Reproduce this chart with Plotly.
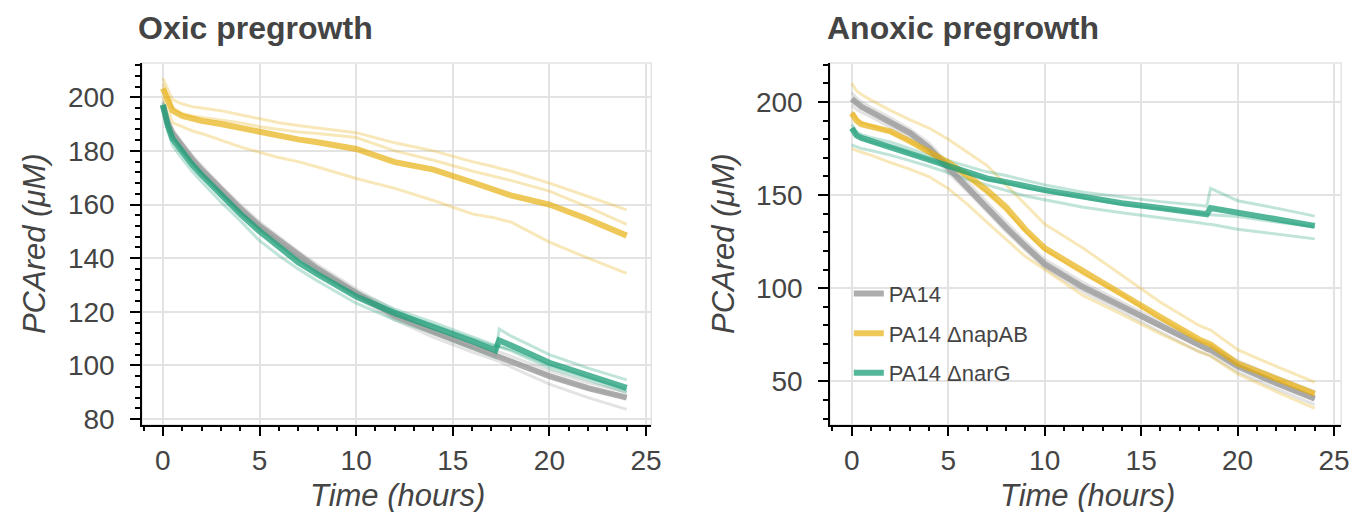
import plotly.graph_objects as go

W, H = 1370, 512

# ---- Oxic pregrowth (left) ----
t_oxic = [0, 0.25, 0.5, 1, 1.5, 2, 3, 4, 5, 6, 7, 8, 10, 12, 14, 16, 17.2, 17.4, 18, 20, 22, 24]

oxic_pa14_mean = [197, 190.5, 186.5, 181.5, 177, 173, 165.5, 158.5, 152, 146.5, 141, 136, 127, 118.5, 112.5, 107, 104, 103.5, 102, 96, 91.5, 88]
oxic_pa14_r1 = [198.5, 192, 188, 183, 178.5, 174.5, 167, 160, 153.5, 148, 142.5, 137.5, 128.5, 120.5, 114, 108.5, 105.5, 105, 103.5, 98, 93.5, 90]
oxic_pa14_r2 = [197, 190.5, 186.5, 181.5, 177, 173, 165.5, 158.5, 152, 146.5, 141, 136, 127, 118.5, 112.5, 107, 104, 103.5, 102, 96, 91.5, 88]
oxic_pa14_r3 = [195.5, 189, 185, 180, 175.5, 171.5, 164, 157, 150.5, 145, 139.5, 134.5, 125.5, 117, 110.5, 105, 102, 101.5, 99.5, 93, 88, 83.6]

oxic_nap_mean = [203.3, 199, 195, 193, 192, 191.2, 190, 188.5, 186.8, 185.5, 184.3, 183.2, 180.7, 175.8, 173, 168.3, 165.4, 165, 163.4, 160, 154.5, 148.4]
oxic_nap_r1 = [207, 203, 199, 197.5, 196.5, 196, 195, 193.5, 192, 190.5, 189.5, 188.5, 186.8, 183, 180, 176, 174, 173.5, 172.5, 168, 163, 158]
oxic_nap_r2 = [205, 200, 196, 194, 193, 192.5, 191.5, 190.5, 189, 188, 187, 186.5, 185, 180, 176.5, 172.5, 170.5, 170, 169, 165, 159, 152.6]
oxic_nap_r3 = [200, 195, 190.5, 189, 187.5, 186.5, 184, 181.5, 179.5, 177.5, 176, 174, 169.7, 166, 161.5, 156.5, 155, 154.5, 153.5, 146, 140, 134.3]

oxic_nar_mean = [197.2, 189.5, 184.5, 179.5, 175, 171, 163.5, 156.5, 150, 144, 138.5, 134, 125.7, 119.5, 114.5, 109, 105.6, 109.3, 107.5, 101, 96.3, 91.6]
oxic_nar_r1 = [196, 187.5, 182, 177, 172.5, 168.5, 161, 154, 146.5, 141, 136, 131.5, 123.2, 117, 112, 106.5, 103, 113.6, 111, 104, 99, 94.6]
oxic_nar_r2 = [198, 191, 186.5, 181, 176.5, 172.5, 165, 158, 152, 146, 140.5, 136, 127.5, 121, 116, 110.5, 107.5, 107, 106, 100, 95.5, 91]
oxic_nar_r3 = [197, 190, 185, 180, 175.5, 171.5, 164, 157, 151, 145, 139.5, 134.5, 126.5, 120, 115, 110, 107, 107, 105.5, 99, 94.5, 90]

# ---- Anoxic pregrowth (right) ----
t_anox = [0, 0.25, 0.5, 1, 2, 3, 4, 5, 6, 7, 8, 9, 10, 12, 14, 16, 18, 18.4, 18.6, 20, 22, 24]

anox_pa14_mean = [201.7, 199, 197.4, 194.7, 189.5, 183.5, 175.5, 164.5, 154.5, 143.5, 132.5, 122.5, 113, 100.5, 90, 79.5, 69, 67.5, 66.8, 58, 49, 40.7]
anox_pa14_r1 = [205, 202, 200, 197, 191.5, 185.5, 178, 167, 157, 146, 135.5, 125, 115.5, 103, 92.5, 82, 71.5, 70, 69.3, 61, 52.5, 44.5]
anox_pa14_r2 = [201.5, 199, 197, 194.5, 189, 183.5, 175.5, 164.5, 154.5, 143.5, 132.5, 122.5, 113, 100.5, 90, 79.5, 69, 67.5, 66.8, 58, 49, 40.5]
anox_pa14_r3 = [198.5, 196, 194.5, 192, 186.5, 181, 173, 162, 152, 141, 130.5, 120.5, 111, 98, 87.5, 76.5, 66, 64.5, 63.8, 55, 46, 37.5]

anox_nap_mean = [194, 190, 188, 187, 184.2, 179, 173, 167.6, 160.6, 152.7, 143.5, 131.5, 121.5, 109, 97, 84.5, 72.5, 70.5, 69.8, 59.5, 51.5, 43.3]
anox_nap_r1 = [210, 206, 204, 201, 195.5, 190.5, 186, 180, 173, 166, 155.5, 145, 134.5, 121.5, 107, 92.5, 80, 78.5, 77.5, 67, 58, 49.5]
anox_nap_r2 = [195, 191, 189, 187.5, 184, 179, 172.5, 166.5, 159, 151, 141.5, 130.5, 120.5, 107.5, 96.5, 83.5, 72, 70.5, 69.5, 59, 51, 43]
anox_nap_r3 = [175, 174, 173, 171.5, 167.5, 164, 160, 153.5, 145, 135.5, 126, 117, 110, 96, 86, 75.5, 66, 64.5, 63.5, 54, 44.5, 35.5]

anox_nar_mean = [186, 182, 180.7, 179, 176.4, 172.9, 169.4, 165.9, 162.4, 159, 157, 154.5, 152.7, 149.2, 145.7, 143.1, 140.5, 139.7, 143.1, 140.5, 137, 133.5]
anox_nar_r1 = [188, 184, 182.5, 181, 178.5, 175, 171.5, 168.5, 165.5, 162.5, 160.5, 158, 155.5, 151.5, 149, 146.5, 144.5, 144, 153.6, 147, 143, 138.7]
anox_nar_r2 = [186, 182, 180.5, 178.5, 176, 172.5, 169, 165.5, 162, 158.5, 156.5, 154, 152, 148.5, 145, 142.5, 140, 139.5, 139.5, 138.5, 135.5, 133]
anox_nar_r3 = [177, 176, 175, 174, 171.5, 168.5, 165.5, 162, 158.5, 155.5, 152.5, 149.5, 147.5, 143.5, 140.5, 138, 135.2, 134.5, 134.3, 131.7, 129.1, 126.5]

strains = ['PA14', 'PA14 ΔnapAB', 'PA14 ΔnarG']
colors = [(153, 153, 153), (230, 171, 2), (27, 158, 119)]
mean_alpha = [0.8, 0.65, 0.75]

panels = [
    ('x', 'y', t_oxic,
     [oxic_pa14_mean, oxic_nap_mean, oxic_nar_mean],
     [[oxic_pa14_r1, oxic_pa14_r2, oxic_pa14_r3],
      [oxic_nap_r1, oxic_nap_r2, oxic_nap_r3],
      [oxic_nar_r1, oxic_nar_r2, oxic_nar_r3]]),
    ('x2', 'y2', t_anox,
     [anox_pa14_mean, anox_nap_mean, anox_nar_mean],
     [[anox_pa14_r1, anox_pa14_r2, anox_pa14_r3],
      [anox_nap_r1, anox_nap_r2, anox_nap_r3],
      [anox_nar_r1, anox_nar_r2, anox_nar_r3]]),
]


def rgba(c, a):
    return 'rgba(%d,%d,%d,%.2f)' % (c[0], c[1], c[2], a)


fig = go.Figure()
for p, (xa, ya, t, means, reps) in enumerate(panels):
    # faint replicates first
    for i, name in enumerate(strains):
        for r in reps[i]:
            fig.add_trace(go.Scatter(x=t, y=r, mode='lines', xaxis=xa, yaxis=ya,
                                     line=dict(color=rgba(colors[i], 0.28), width=3),
                                     legendgroup=name, showlegend=False, hoverinfo='skip'))
    # thick mean curves
    for i, name in enumerate(strains):
        fig.add_trace(go.Scatter(x=t, y=means[i], mode='lines', xaxis=xa, yaxis=ya, name=name,
                                 line=dict(color=rgba(colors[i], mean_alpha[i]), width=6),
                                 legendgroup=name, showlegend=(p == 1)))

tickfont = dict(family='Liberation Sans, Arial, sans-serif', size=28, color='#444444')
axis = dict(showline=True, linecolor='black', linewidth=1.5, ticks='outside', ticklen=10,
            tickwidth=1.5, tickcolor='black', showgrid=True, gridcolor='#e3e3e3', gridwidth=1.5,
            zeroline=False, tickfont=tickfont)

def minor(d):
    return dict(dtick=d, ticks='outside', ticklen=5, tickwidth=1.5, tickcolor='black', showgrid=False)

y0, y1 = 1 - 425 / H, 1 - 56 / H
fig.update_layout(
    width=W, height=H, margin=dict(l=0, r=0, t=0, b=0),
    plot_bgcolor='white', paper_bgcolor='white',
    xaxis=dict(axis, domain=[135 / W, 648 / W], range=[-1.08, 25.27], tick0=0, dtick=5,
               minor=minor(1), anchor='y', ticklabelstandoff=0),
    yaxis=dict(axis, domain=[y0, y1], range=[77.9, 212.8], tick0=0, dtick=20,
               minor=minor(4), anchor='x', ticklabelstandoff=10),
    xaxis2=dict(axis, domain=[828 / W, 1343 / W], range=[-1.13, 25.37], tick0=0, dtick=5,
                minor=minor(1), anchor='y2', ticklabelstandoff=0),
    yaxis2=dict(axis, domain=[y0, y1], range=[26.7, 221], tick0=0, dtick=50,
                minor=minor(10), anchor='x2', ticklabelstandoff=10),
    legend=dict(x=847 / W, y=1 - 270 / H, xanchor='left', yanchor='top', bgcolor='rgba(0,0,0,0)',
                font=dict(family='Liberation Sans, Arial, sans-serif', size=22, color='#444444'),
                tracegroupgap=8, itemwidth=30),
    showlegend=True,
)

# light frame around each plot area
for xr, yr in (('x domain', 'y domain'), ('x2 domain', 'y2 domain')):
    fig.add_shape(type='rect', xref=xr, yref=yr, x0=0, x1=1, y0=0, y1=1,
                  line=dict(color='#e3e3e3', width=1.5), layer='below')

title_font = dict(family='Liberation Sans, Arial, sans-serif', size=32, color='#444444')
label_font = dict(family='Liberation Sans, Arial, sans-serif', size=31, color='#444444')
for xpx, txt in ((129, 'Oxic pregrowth'), (823, 'Anoxic pregrowth')):
    fig.add_annotation(text='<b>%s</b>' % txt, x=xpx / W, y=1 - 20 / H, xref='paper', yref='paper',
                       xanchor='left', yanchor='middle', showarrow=False, font=title_font)
for xpx in (27, 721):
    fig.add_annotation(text='<i>PCAred (μM)</i>', x=xpx / W, y=1 - 240 / H, xref='paper', yref='paper',
                       textangle=-90, xanchor='center', yanchor='middle', showarrow=False, font=label_font)
for xpx in (392, 1087):
    fig.add_annotation(text='<i>Time (hours)</i>', x=xpx / W, y=1 - 497 / H, xref='paper', yref='paper',
                       xanchor='center', yanchor='middle', showarrow=False, font=label_font)

fig.write_html('out.html')
